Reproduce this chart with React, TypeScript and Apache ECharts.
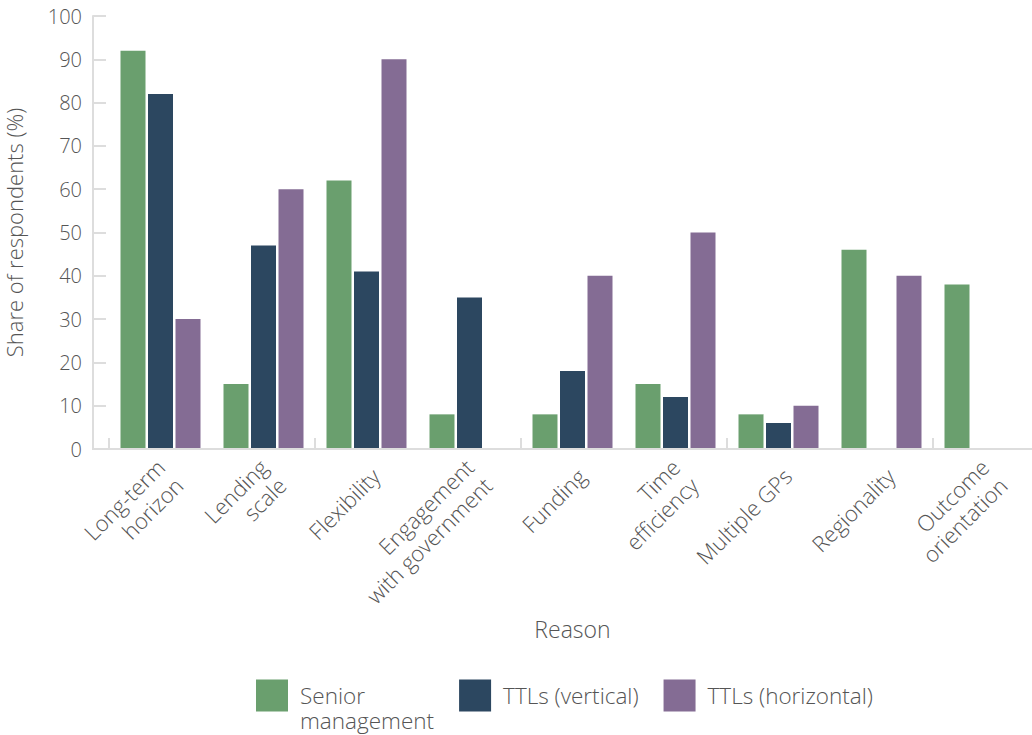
import React, { useEffect, useRef } from "react";
import * as echarts from "echarts";

const categories = [
  "Long-term\nhorizon",
  "Lending\nscale",
  "Flexibility",
  "Engagement\nwith government",
  "Funding",
  "Time\nefficiency",
  "Multiple GPs",
  "Regionality",
  "Outcome\norientation",
];
const seniorManagement = [92, 15, 62, 8, 8, 15, 8, 46, 38];
const ttlsVertical = [82, 47, 41, 35, 18, 12, 6, 0, 0];
const ttlsHorizontal = [30, 60, 90, 0, 40, 50, 10, 40, 0];
const seriesNames = ["Senior management", "TTLs (vertical)", "TTLs (horizontal)"];
const colors = ["#6a9f6e", "#2c4760", "#846c94"];

const FONT = "'Open Sans', Lato, sans-serif";
const TEXT = "#555555";
const AXIS = "#dddddd";

export default function App() {
  const ref = useRef<HTMLDivElement>(null);
  useEffect(() => {
    if (!ref.current) return;
    const chart = echarts.init(ref.current, undefined, { renderer: "svg" });
    const data = [seniorManagement, ttlsVertical, ttlsHorizontal];
    const labelShift = 9;
    chart.setOption({
      animation: false,
      textStyle: { fontFamily: FONT, fontWeight: 300 },
      grid: [
        { left: 109, right: -4, top: 16, bottom: 286, containLabel: false, outerBoundsMode: "none" },
        { left: 109 + labelShift, right: -4 - labelShift, top: 16, bottom: 286, containLabel: false, outerBoundsMode: "none" },
      ],
      legend: {
        left: 256,
        top: 658,
        padding: 0,
        icon: "rect",
        itemWidth: 32,
        itemGap: 25,
        itemHeight: 32,
        textStyle: { fontSize: 22.5, color: TEXT, fontFamily: FONT, fontWeight: 300, lineHeight: 25, padding: [0, 0, 0, 7] },
        formatter: (n: string) => (n === "Senior management" ? "\nSenior\nmanagement" : n),
        data: seriesNames,
      },
      xAxis: [
        {
          type: "category",
          data: categories,
          name: "Reason",
          nameLocation: "middle",
          nameGap: 168,
          nameTextStyle: { fontSize: 23, color: TEXT, fontWeight: 300 },
          axisLine: { show: false },
          axisTick: { show: true, inside: true, length: 11, lineStyle: { color: AXIS, width: 2 } },
          axisLabel: { show: false },
        },
        {
          type: "category",
          gridIndex: 1,
          data: categories,
          axisLine: { show: false },
          axisTick: { show: false },
          axisLabel: {
            rotate: 45,
            interval: 0,
            fontSize: 22,
            fontWeight: 300,
            lineHeight: 26,
            color: TEXT,
            margin: 23,
          },
        },
      ],
      yAxis: [
        {
          type: "value",
          min: 0,
          max: 100,
          interval: 10,
          offset: 16,
          name: "Share of respondents (%)",
          nameLocation: "middle",
          nameGap: 68,
          nameTextStyle: { fontSize: 22, color: TEXT, fontWeight: 300 },
          axisLine: { show: true, lineStyle: { color: AXIS, width: 2 } },
          axisTick: { show: true, inside: true, length: 13, lineStyle: { color: AXIS, width: 2 } },
          axisLabel: { fontSize: 20, color: TEXT, margin: 11, fontWeight: 300 },
          splitLine: { show: false },
        },
        { type: "value", gridIndex: 1, min: 0, max: 100, show: false },
      ],
      graphic: [
        {
          type: "line",
          shape: { x1: 92, y1: 449, x2: 1032, y2: 449 },
          style: { stroke: AXIS, lineWidth: 2 },
          z: 10,
        },
      ],
      series: seriesNames.map((name, i) => ({
        name,
        type: "bar",
        xAxisIndex: 0,
        yAxisIndex: 0,
        data: data[i],
        barWidth: 25,
        barGap: "10%",
        itemStyle: { color: colors[i] },
      })),
    });
    return () => chart.dispose();
  }, []);
  return <div ref={ref} style={{ width: 1032, height: 735, position: "absolute", left: 0, top: 0 }} />;
}
